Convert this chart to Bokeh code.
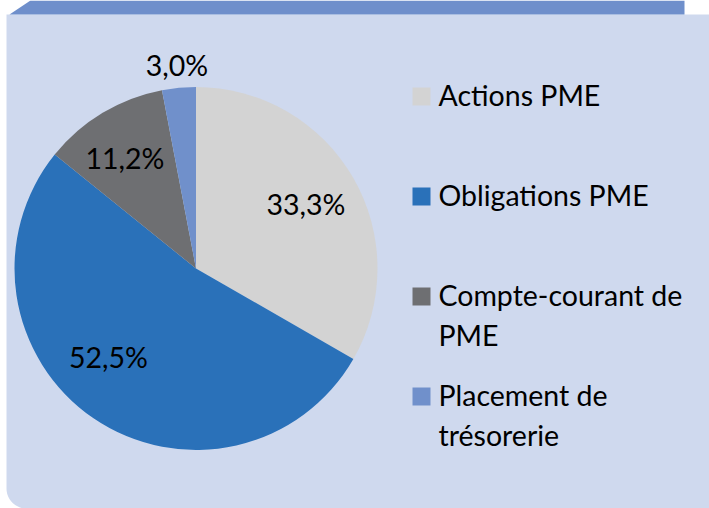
import numpy as np
from bokeh.plotting import figure
from bokeh.models import Range1d, ColumnDataSource
from bokeh.core.properties import value
from bokeh.embed import file_html
from bokeh.resources import INLINE

# ---- data ----
categories = ["Actions PME", "Obligations PME", "Compte-courant de PME", "Placement de trésorerie"]
shares = [33.3, 52.5, 11.2, 3.0]
pct_labels = ["33,3%", "52,5%", "11,2%", "3,0%"]
legend_lines = [["Actions PME"], ["Obligations PME"], ["Compte-courant de", "PME"], ["Placement de", "trésorerie"]]
colors = ["#D3D3D3", "#2A71B9", "#6E6F72", "#7090CB"]

# ---- layout (reference pixel coordinates, y downward) ----
W, H = 709, 508
def Y(y):
    return 508 - np.asarray(y, dtype=float)

PANEL = "#CFD9EE"
BANNER = "#6F8FCB"
FONT = value("Lato")
FS = "28.5px"
TDY = -11  # baseline correction
cx, cy, R = 195.5, 268.0, 181.5

p = figure(width=W, height=H, x_range=Range1d(0, W), y_range=Range1d(0, H),
           output_backend="svg", toolbar_location=None, min_border=0,
           background_fill_color="white", border_fill_color="white")
p.axis.visible = False
p.grid.visible = False
p.outline_line_color = None

# panel with rounded bottom-left corner
t = np.linspace(np.pi / 2, np.pi, 20)
arc_x = 26 + 20 * np.cos(t)
arc_y = 488 + 20 * np.sin(t)
px = np.concatenate([[6, 720, 720, 26], arc_x])
py = np.concatenate([[14, 14, 530, 530], arc_y])
p.patch(px, Y(py), fill_color=PANEL, line_color=None)

# banner
p.patch([30, 684, 684, 9], Y([0, 0, 14, 14]), fill_color=BANNER, line_color=None)

# pie
frac = np.array(shares) / sum(shares)
cum = np.concatenate([[0], np.cumsum(frac)])
start = np.pi / 2 - 2 * np.pi * cum[1:]
end = np.pi / 2 - 2 * np.pi * cum[:-1]
src = ColumnDataSource(dict(start=start, end=end, color=colors, cat=categories))
p.wedge(x=cx, y=float(Y(cy)), radius=R, start_angle="start", end_angle="end",
        direction="anticlock", fill_color="color", line_color=None, source=src)

# percent labels
mid = (start + end) / 2
rfac = np.array([0.70, 0.69, 0.72, 1.12])
ashift = np.radians([0, -10, 2, 0])
lx = cx + rfac * R * np.cos(mid + ashift)
ly = cy - rfac * R * np.sin(mid + ashift)
p.text(x=lx, y=Y(ly + 10 + TDY), text=pct_labels, text_font=FONT, text_font_size=FS,
       text_align="center", text_baseline="alphabetic", text_color="#000000")

# legend
base = 105 + 100 * np.arange(len(categories))
p.rect(x=[421] * len(categories), y=Y(base - 9), width=18, height=18,
       fill_color=colors, line_color=None)
tx, ty, tt = [], [], []
for i, lines in enumerate(legend_lines):
    for j, s in enumerate(lines):
        tx.append(438)
        ty.append(float(Y(base[i] + 40 * j + TDY)))
        tt.append(s)
p.text(x=tx, y=ty, text=tt, text_font=FONT, text_font_size=FS,
       text_align="left", text_baseline="alphabetic", text_color="#000000")

open("out.html", "w").write(file_html(p, INLINE))
